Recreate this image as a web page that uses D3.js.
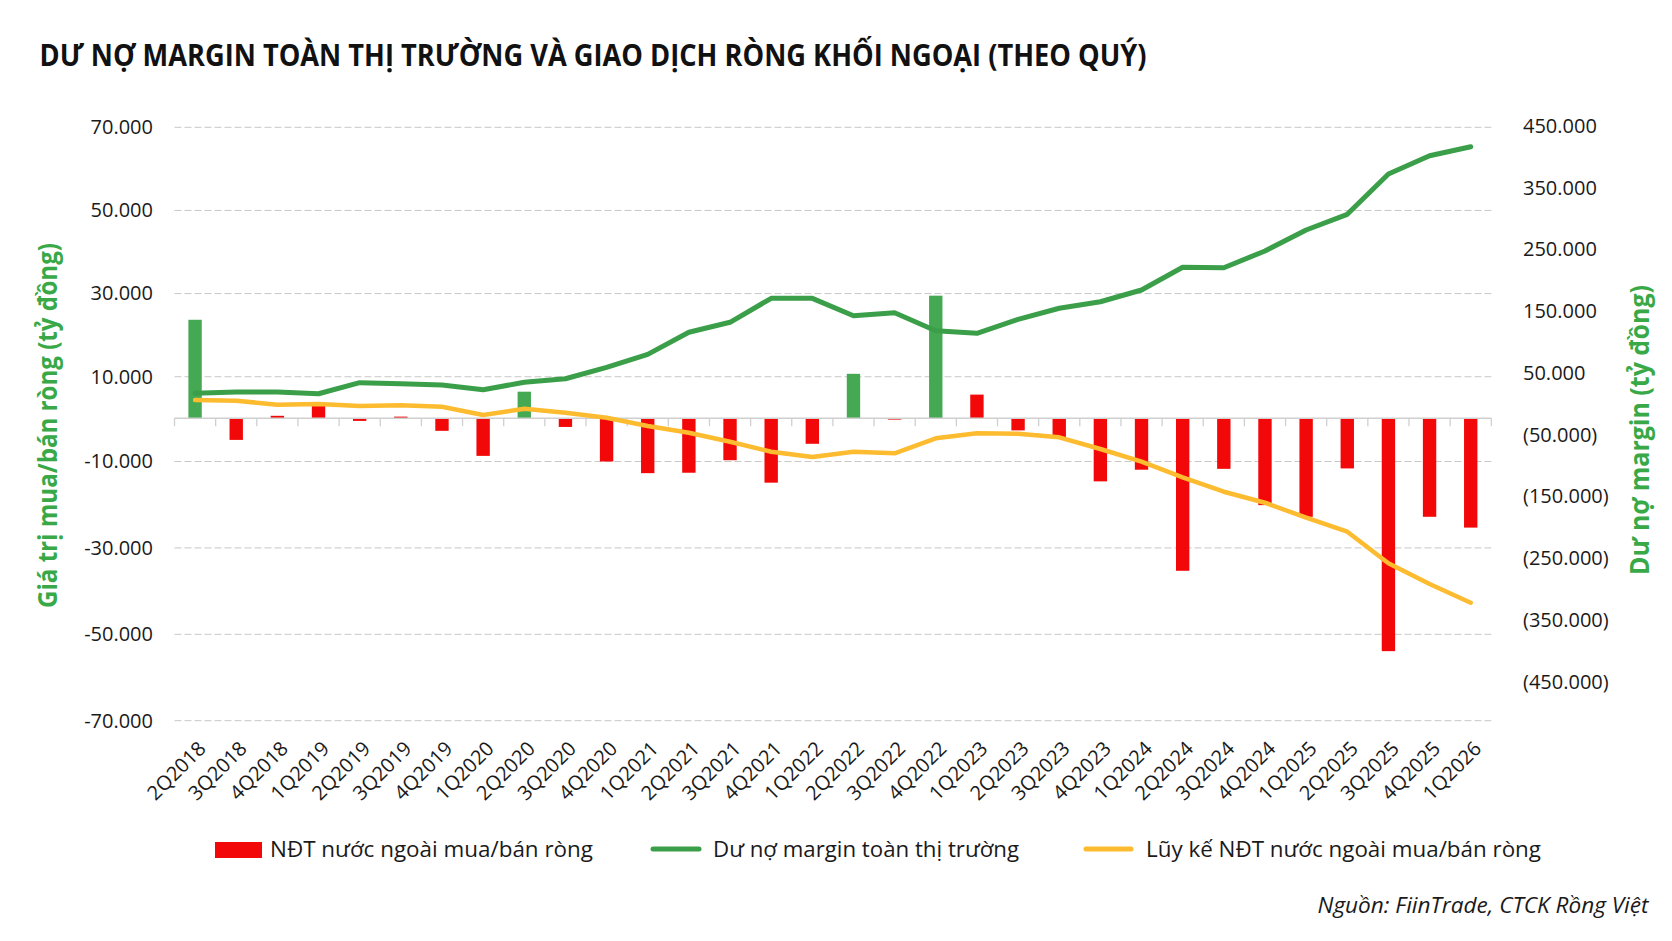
<!DOCTYPE html>
<html>
<head>
<meta charset="utf-8">
<script src="https://cdn.jsdelivr.net/npm/d3@7"></script>
<style>
  body { margin: 0; background: #fff; }
  text { font-family: "Open Sans", "Noto Sans", sans-serif; }
</style>
</head>
<body>
<div id="chart"></div>
<script>

const quarters = ["2Q2018", "3Q2018", "4Q2018", "1Q2019", "2Q2019", "3Q2019", "4Q2019", "1Q2020",
                  "2Q2020", "3Q2020", "4Q2020", "1Q2021", "2Q2021", "3Q2021", "4Q2021", "1Q2022",
                  "2Q2022", "3Q2022", "4Q2022", "1Q2023", "2Q2023", "3Q2023", "4Q2023", "1Q2024",
                  "2Q2024", "3Q2024", "4Q2024", "1Q2025", "2Q2025", "3Q2025", "4Q2025", "1Q2026"]

// NĐT nước ngoài mua/bán ròng (left axis)
const netForeign = [23700, -5000, 600, 3200, -600, 400, -2900, -8700,
                    6400, -2000, -10000, -12700, -12600, -9700, -14900, -5900,
                    10700, -300, 29500, 5700, -2800, -4700, -14600, -11900,
                    -35300, -11700, -20100, -22800, -11600, -53900, -22800, -25300]

// Dư nợ margin toàn thị trường (right axis)
const marginDebt = [17100, 19200, 19200, 16400, 34300, 32600, 30500, 22900,
                    34900, 40700, 59200, 80200, 115900, 132100, 170900, 170900,
                    142800, 147600, 118500, 114300, 136900, 154800, 165400, 184400,
                    221200, 220500, 247600, 281600, 307000, 372300, 401900, 416500]

// Lũy kế NĐT nước ngoài mua/bán ròng (right axis)
const cumForeign = [6200, 5100, -1400, -200, -3500, -2300, -4600, -18100,
                    -7900, -14300, -22400, -35900, -46700, -61300, -77500, -86100,
                    -77500, -80100, -55800, -47700, -48300, -54200, -73100, -93700,
                    -119000, -142300, -160100, -184400, -207100, -258200, -291800, -322100]

// quarters whose bar is drawn green in the original
const greenQuarters = ["2Q2018", "2Q2020", "2Q2022", "4Q2022"]

const leftTicks = [-70000, -50000, -30000, -10000, 10000, 30000, 50000, 70000]
const rightTicks = [-450000, -350000, -250000, -150000, -50000, 50000, 150000, 250000, 350000, 450000]

const width = 1672
const height = 941
const plotLeft = 174.5
const plotRight = 1491.3

const red = "#f20808"
const green = "#3b9f49"
const greenBar = "#45a853"
const yellow = "#fdbb30"
const titleGreen = "#39a948"

const locale = d3.formatLocale({ decimal: ",", thousands: ".", grouping: [3], currency: ["", ""], minus: "-" })
const fmt = locale.format(",.0f")

const svg = d3.select("#chart")
  .append("svg")
    .attr("width", width)
    .attr("height", height)

const x = d3.scaleBand()
  .domain(quarters)
  .range([plotLeft, plotRight])
  .padding(0)

const step = x.step()
const barW = step * 0.325
const cx = q => x(q) + step / 2

// left axis is slightly uneven in the original, so anchor zero explicitly
const yLeft = d3.scaleLinear()
  .domain([-70000, 0, 70000])
  .range([720.7, 418.3, 127.3])

const yRight = d3.scaleLinear()
  .domain([-450000, 450000])
  .range([681.7, 126])

// Title
svg.append("text")
  .text("DƯ NỢ MARGIN TOÀN THỊ TRƯỜNG VÀ GIAO DỊCH RÒNG KHỐI NGOẠI (THEO QUÝ)")
    .attr("x", 39.5)
    .attr("y", 66)
    .attr("font-size", 31)
    .attr("font-weight", 700)
    .attr("fill", "#111")
    .attr("textLength", 1107)
    .attr("lengthAdjust", "spacingAndGlyphs")

// Gridlines
svg.append("g")
  .selectAll("line")
  .data(leftTicks).enter()
    .append("line")
      .attr("x1", plotLeft)
      .attr("x2", plotRight)
      .attr("y1", d => yLeft(d))
      .attr("y2", d => yLeft(d))
      .attr("stroke", "#c8c8c8")
      .attr("stroke-width", 1)
      .attr("stroke-dasharray", "7,3")

// Left axis labels
const leftAxis = svg.append("g")
  .attr("transform", "translate(" + plotLeft + ",0)")
  .call(d3.axisLeft(yLeft).tickValues(leftTicks).tickSize(0).tickPadding(21.5).tickFormat(fmt))
leftAxis.select(".domain").remove()
leftAxis.selectAll("text")
  .attr("font-size", 20)
  .attr("fill", "#1a1a1a")
  .style("font-family", "'Open Sans', sans-serif")

// Right axis labels
const rightAxis = svg.append("g")
  .attr("transform", "translate(" + 1523 + ",0)")
  .call(d3.axisRight(yRight).tickValues(rightTicks).tickSize(0).tickPadding(0)
    .tickFormat(d => d < 0 ? "(" + fmt(-d) + ")" : fmt(d)))
rightAxis.select(".domain").remove()
rightAxis.selectAll("text")
  .attr("font-size", 20)
  .attr("fill", "#1a1a1a")
  .style("font-family", "'Open Sans', sans-serif")

// Axis titles
svg.append("text")
  .text("Giá trị mua/bán ròng (tỷ đồng)")
    .attr("text-anchor", "middle")
    .attr("transform", "translate(57,425.5)rotate(-90)")
    .attr("font-size", 27)
    .attr("font-weight", 700)
    .attr("fill", titleGreen)
    .attr("textLength", 365)
    .attr("lengthAdjust", "spacingAndGlyphs")

svg.append("text")
  .text("Dư nợ margin (tỷ đồng)")
    .attr("text-anchor", "middle")
    .attr("transform", "translate(1649,430)rotate(-90)")
    .attr("font-size", 27)
    .attr("font-weight", 700)
    .attr("fill", titleGreen)
    .attr("textLength", 290)
    .attr("lengthAdjust", "spacingAndGlyphs")

// Bars
svg.append("g")
  .selectAll("rect")
  .data(quarters).enter()
    .append("rect")
      .attr("x", q => cx(q) - barW / 2)
      .attr("width", barW)
      .attr("y", (q, i) => yLeft(Math.max(0, netForeign[i])))
      .attr("height", (q, i) => Math.abs(yLeft(netForeign[i]) - yLeft(0)))
      .attr("fill", q => greenQuarters.includes(q) ? greenBar : red)

// Category axis
const y0 = yLeft(0)
const xAxis = svg.append("g")
xAxis.append("line")
  .attr("x1", plotLeft)
  .attr("x2", plotRight)
  .attr("y1", y0)
  .attr("y2", y0)
  .attr("stroke", "#cfcfcf")
  .attr("stroke-width", 1.5)

xAxis.selectAll(".tick")
  .data(quarters.concat(["end"])).enter()
    .append("line")
      .attr("class", "tick")
      .attr("x1", q => q === "end" ? plotRight : x(q))
      .attr("x2", q => q === "end" ? plotRight : x(q))
      .attr("y1", y0)
      .attr("y2", y0 + 8)
      .attr("stroke", "#cfcfcf")
      .attr("stroke-width", 1.3)

xAxis.selectAll(".label")
  .data(quarters).enter()
    .append("text")
      .attr("class", "label")
      .text(q => q)
      .attr("text-anchor", "end")
      .attr("dy", "0.35em")
      .attr("font-size", 20)
      .attr("fill", "#1a1a1a")
      .attr("transform", q => "translate(" + (cx(q) + 7) + "," + 745 + ")rotate(-45)")

// Lines
const marginLine = d3.line()
  .x((d, i) => cx(quarters[i]))
  .y(d => yRight(d))

svg.append("path")
  .datum(marginDebt)
  .attr("d", marginLine)
  .attr("fill", "none")
  .attr("stroke", green)
  .attr("stroke-width", 5)
  .attr("stroke-linejoin", "round")
  .attr("stroke-linecap", "round")

svg.append("path")
  .datum(cumForeign)
  .attr("d", marginLine)
  .attr("fill", "none")
  .attr("stroke", yellow)
  .attr("stroke-width", 4.5)
  .attr("stroke-linejoin", "round")
  .attr("stroke-linecap", "round")

// Legend
const legend = svg.append("g").attr("class", "legend")

legend.append("rect")
  .attr("x", 215)
  .attr("y", 842)
  .attr("width", 47)
  .attr("height", 16)
  .attr("fill", red)

legend.append("line")
  .attr("x1", 653).attr("x2", 699)
  .attr("y1", 849).attr("y2", 849)
  .attr("stroke", green)
  .attr("stroke-width", 5)
  .attr("stroke-linecap", "round")

legend.append("line")
  .attr("x1", 1086).attr("x2", 1131)
  .attr("y1", 849).attr("y2", 849)
  .attr("stroke", yellow)
  .attr("stroke-width", 5)
  .attr("stroke-linecap", "round")

const legendItems = [
  { label: "NĐT nước ngoài mua/bán ròng", x: 270, len: 323 },
  { label: "Dư nợ margin toàn thị trường", x: 713, len: 306 },
  { label: "Lũy kế NĐT nước ngoài mua/bán ròng", x: 1146, len: 395 }
]

legend.selectAll("text")
  .data(legendItems).enter()
    .append("text")
      .text(d => d.label)
      .attr("x", d => d.x)
      .attr("y", 857)
      .attr("font-size", 21)
      .attr("fill", "#1a1a1a")
      .attr("textLength", d => d.len)
      .attr("lengthAdjust", "spacingAndGlyphs")

// Source
svg.append("text")
  .text("Nguồn: FiinTrade, CTCK Rồng Việt")
    .attr("x", 1648.5)
    .attr("y", 913)
    .attr("text-anchor", "end")
    .attr("font-size", 21)
    .attr("font-style", "italic")
    .attr("fill", "#1a1a1a")
    .attr("textLength", 331)
    .attr("lengthAdjust", "spacingAndGlyphs")

</script>
</body>
</html>
